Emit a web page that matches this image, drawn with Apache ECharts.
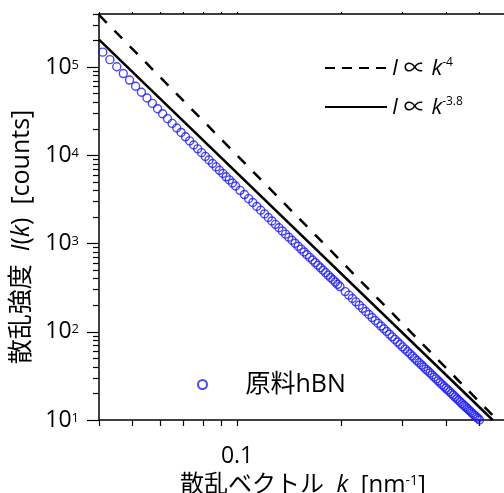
<!DOCTYPE html>
<html>
<head>
<meta charset="utf-8">
<script src="https://cdn.jsdelivr.net/npm/echarts@6/dist/echarts.min.js"></script>
<style>
  html, body { margin: 0; padding: 0; background: #fff; }
  #main { width: 504px; height: 493px; }
</style>
</head>
<body>
<div id="main"></div>
<script>
// 散乱ベクトル k [nm-1]
var kVals = [
  0.041, 0.043, 0.045, 0.047, 0.049, 0.051, 0.053, 0.055, 0.057, 0.059,
  0.061, 0.063, 0.065, 0.067, 0.069, 0.071, 0.073, 0.075, 0.077, 0.079,
  0.081, 0.083, 0.085, 0.087, 0.089, 0.091, 0.093, 0.095, 0.097, 0.099,
  0.102, 0.105, 0.108, 0.111, 0.114, 0.117, 0.120, 0.123, 0.126, 0.129,
  0.132, 0.135, 0.138, 0.141, 0.144, 0.147, 0.150, 0.153, 0.156, 0.159,
  0.162, 0.165, 0.168, 0.171, 0.174, 0.177, 0.180, 0.183, 0.186, 0.189,
  0.192, 0.195, 0.198,
  0.205, 0.210, 0.215, 0.220, 0.225, 0.230, 0.235, 0.240, 0.245, 0.250,
  0.255, 0.260, 0.265, 0.270, 0.275, 0.280, 0.285, 0.290, 0.295, 0.300,
  0.305, 0.310, 0.315, 0.320, 0.325, 0.330, 0.335, 0.340, 0.345, 0.350,
  0.355, 0.360, 0.365, 0.370, 0.375, 0.380, 0.385, 0.390, 0.395, 0.400,
  0.405, 0.410, 0.415, 0.420, 0.425, 0.430, 0.435, 0.440, 0.445, 0.450,
  0.455, 0.460, 0.465, 0.470, 0.475, 0.480, 0.485, 0.490, 0.495, 0.500
];
// 散乱強度 I(k) [counts]  (原料hBN)
var iVals = [
  147700, 121500, 100900, 84530, 71330, 60690, 51950, 44720, 38780, 33780,
  29580, 26040, 23010, 20400, 18180, 16220, 14570, 13110, 11840, 10720,
  9721, 8860, 8077, 7394, 6766, 6220, 5710, 5268, 4856, 4494,
  4011, 3592, 3229, 2917, 2635, 2387, 2168, 1974, 1805, 1651,
  1512, 1390, 1278, 1178, 1089, 1008, 932.9, 865.1, 803.8, 747.6,
  696.4, 651.0, 608.0, 568.3, 532.2, 498.5, 467.7, 439.1, 412.9, 388.4,
  366.0, 345.1, 325.4,
  285.3, 260.4, 238.2, 218.3, 200.2, 184.3, 169.7, 156.8, 144.9, 134.3,
  125.1, 116.1, 108.1, 100.6, 93.91, 87.62, 81.99, 76.72, 71.92, 67.45,
  63.62, 59.81, 56.29, 53.04, 49.98, 47.18, 44.57, 42.10, 39.84, 37.70,
  35.99, 34.13, 32.37, 30.74, 29.23, 27.79, 26.43, 25.17, 23.99, 22.86,
  21.95, 20.96, 20.02, 19.13, 18.29, 17.48, 16.74, 16.03, 15.35, 14.72,
  14.18, 13.59, 13.08, 12.56, 12.09, 11.63, 11.20, 10.77, 10.39, 10.01
];
// 参照線の端点
var lineK4 = [[0.04, 390625], [0.5623, 10]];
var lineK38 = [[0.04, 205200], [0.5456, 10]];

var xMajorTicks = [0.1];
var xTicks = [0.04, 0.05, 0.06, 0.07, 0.08, 0.09, 0.1, 0.2, 0.3, 0.4, 0.5, 0.6];
var yMajorTicks = [10, 100, 1000, 10000, 100000];
var yMinorTicks = [20, 30, 40, 50, 60, 70, 80, 90,
  200, 300, 400, 500, 600, 700, 800, 900,
  2000, 3000, 4000, 5000, 6000, 7000, 8000, 9000,
  20000, 30000, 40000, 50000, 60000, 70000, 80000, 90000,
  200000, 300000, 400000];

var FONT = "'Open Sans', 'Noto Sans CJK JP', sans-serif";

var hbnData = [];
for (var i = 0; i < kVals.length; i++) {
  hbnData.push([kVals[i], iVals[i]]);
}

var myChart = echarts.init(document.getElementById('main'));

var option = {
  animation: false,
  backgroundColor: '#fff',
  textStyle: { fontFamily: FONT, color: '#000' },
  grid: { left: 99, top: 14, right: -3, bottom: 73, containLabel: false, outerBoundsMode: 'none' },
  legend: [
    {
      data: [
        { name: 'k4', lineStyle: { type: [10, 7] } },
        { name: 'k38' }
      ],
      orient: 'vertical',
      left: 319,
      top: 51,
      itemWidth: 62,
      itemHeight: 16,
      itemGap: 15,
      itemStyle: { opacity: 0 },
      textStyle: {
        fontFamily: FONT, fontSize: 22, color: '#000', lineHeight: 24,
        rich: {
          i: { fontFamily: FONT, fontStyle: 'italic', fontSize: 22, verticalAlign: 'bottom' },
          n: { fontFamily: FONT, fontSize: 22, verticalAlign: 'bottom' },
          s: { fontFamily: FONT, fontSize: 12, verticalAlign: 'bottom', padding: [0, 0, 11, 0] }
        }
      },
      formatter: function (name) {
        if (name === 'k4') return '{i|I} {n|\u221d} {i|k}{s|-4}';
        return '{i|I} {n|\u221d} {i|k}{s|-3.8}';
      }
    },
    {
      data: ['hBN'],
      left: 192,
      top: 367,
      itemWidth: 76,
      itemHeight: 9,
      textStyle: { fontFamily: FONT, fontSize: 25, color: '#000' },
      formatter: function () { return '原料hBN'; }
    }
  ],
  xAxis: [
    {
      type: 'log',
      min: 0.04,
      max: 0.6,
      position: 'bottom',
      name: '散乱ベクトル  {i|k}  [nm{s|-1}]',
      nameLocation: 'middle',
      nameGap: 46,
      nameTextStyle: {
        fontFamily: FONT, fontSize: 24, color: '#000',
        rich: {
          i: { fontFamily: FONT, fontStyle: 'italic', fontSize: 24, verticalAlign: 'bottom' },
          s: { fontFamily: FONT, fontSize: 14, verticalAlign: 'bottom', padding: [0, 0, 9, 0] }
        }
      },
      axisLine: { show: true, lineStyle: { color: '#000', width: 1.5 } },
      axisTick: { show: true, inside: false, length: 6, customValues: xTicks, lineStyle: { color: '#000', width: 1.2 } },
      axisLabel: {
        show: true, margin: 25, customValues: xMajorTicks,
        fontFamily: FONT, fontSize: 23, color: '#000',
        formatter: function (v) { return String(v); }
      },
      splitLine: { show: false }
    },
    {
      type: 'log',
      min: 0.04,
      max: 0.6,
      position: 'top',
      axisLine: { show: true, lineStyle: { color: '#000', width: 1.5 } },
      axisTick: { show: true, inside: false, length: 2, customValues: xTicks, lineStyle: { color: '#000', width: 1 } },
      axisLabel: { show: false },
      splitLine: { show: false }
    }
  ],
  yAxis: [
    {
      type: 'log',
      min: 10,
      max: 400000,
      position: 'left',
      name: '散乱強度  {i|I}({i|k})  [counts]',
      nameLocation: 'middle',
      nameRotate: 90,
      nameGap: 63,
      nameTextStyle: {
        fontFamily: FONT, fontSize: 25, color: '#000',
        padding: [0, 40, 0, 0],
        rich: {
          i: { fontFamily: FONT, fontStyle: 'italic', fontSize: 25 }
        }
      },
      axisLine: { show: true, lineStyle: { color: '#000', width: 1.5 } },
      axisTick: { show: true, inside: false, length: 12, customValues: yMajorTicks, lineStyle: { color: '#000', width: 1.2 } },
      axisLabel: {
        show: true, margin: 20, customValues: yMajorTicks,
        fontFamily: FONT, fontSize: 23, color: '#000',
        formatter: function (v) {
          var e = Math.round(Math.log(v) / Math.LN10);
          return '{b|10}{s|' + e + '}';
        },
        rich: {
          b: { fontFamily: FONT, fontSize: 23, verticalAlign: 'bottom' },
          s: { fontFamily: FONT, fontSize: 13, verticalAlign: 'bottom', padding: [0, 0, 7, 0] }
        }
      },
      splitLine: { show: false }
    },
    {
      type: 'log',
      min: 10,
      max: 400000,
      position: 'left',
      axisLine: { show: false },
      axisTick: { show: true, inside: false, length: 6, customValues: yMinorTicks, lineStyle: { color: '#000', width: 1.2 } },
      axisLabel: { show: false },
      splitLine: { show: false }
    }
  ],
  series: [
    {
      name: 'k4',
      type: 'line',
      data: lineK4,
      symbol: 'none',
      clip: true,
      lineStyle: { color: '#000', width: 2.5, type: [11, 11] },
      itemStyle: { color: '#000' },
      z: 3
    },
    {
      name: 'k38',
      type: 'line',
      data: lineK38,
      symbol: 'none',
      clip: true,
      lineStyle: { color: '#000', width: 2.5, type: 'solid' },
      itemStyle: { color: '#000' },
      z: 3
    },
    {
      name: 'hBN',
      type: 'scatter',
      data: hbnData,
      symbol: 'circle',
      symbolSize: 8,
      clip: true,
      itemStyle: { color: 'rgba(0,0,0,0)', borderColor: '#1a1aff', borderWidth: 1.4 },
      z: 2
    }
  ]
};

myChart.setOption(option);
</script>
</body>
</html>
